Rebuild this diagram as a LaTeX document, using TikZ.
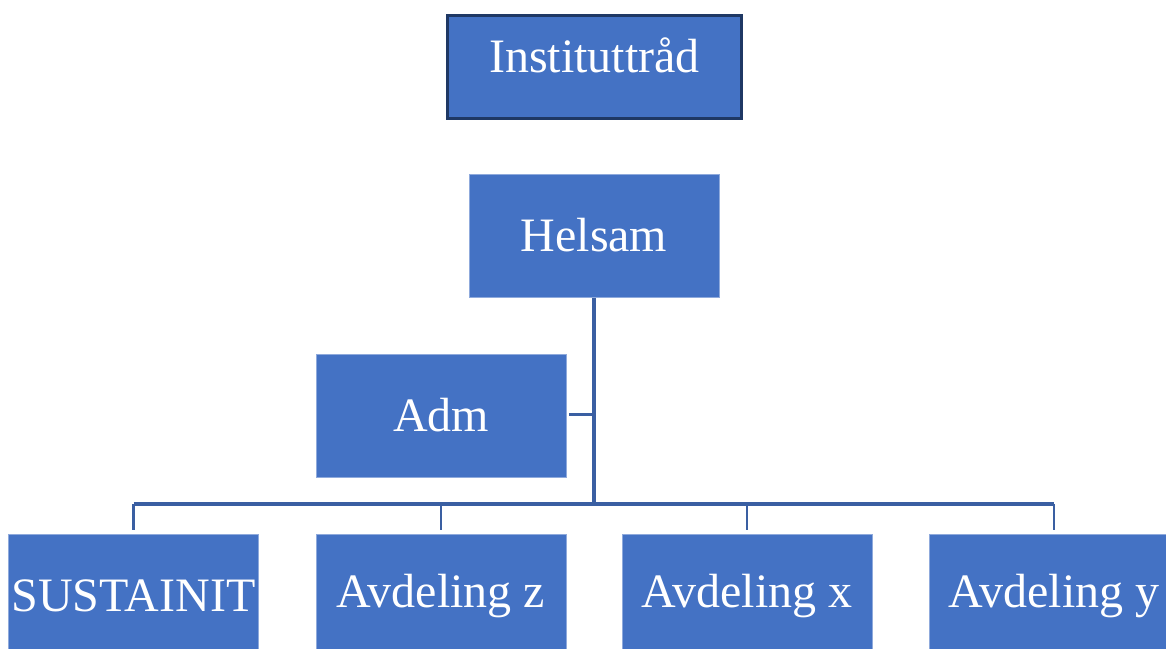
\documentclass[tikz,border=0pt]{standalone}
\usepackage{fontspec}
\setmainfont{Liberation Serif}
\definecolor{boxblue}{HTML}{4472C4}
\definecolor{boxedge}{HTML}{8FAADC}
\definecolor{darkedge}{HTML}{1F3864}
\definecolor{linkblue}{HTML}{3A5FA2}
\begin{document}
\begin{tikzpicture}[x=1pt,y=-1pt,
  orgbox/.style={fill=boxblue,draw=boxedge,line width=0.8pt,minimum width=250pt,minimum height=123pt,inner sep=0pt,text=white,font=\fontsize{48}{50}\selectfont},
  topbox/.style={fill=boxblue,draw=darkedge,line width=2.5pt,minimum width=294pt,minimum height=103pt,inner sep=0pt},
  link/.style={draw=linkblue,line width=3.2pt}]
\useasboundingbox (0,0) rectangle (1166,648);
\node[topbox] (inst) at (594.5,67) {};
\node[text=white,font=\fontsize{48}{50}\selectfont,inner sep=0pt,anchor=base] (insttext) at (594.5,72) {Instituttråd};
\node[orgbox] (helsam) at (594,235.5) {Helsam};
\node[orgbox] (adm) at (441,415.5) {Adm};
\node[orgbox] (sus) at (133.5,596) {SUSTAINIT};
\node[orgbox] (avz) at (441,596) {Avdeling z};
\node[orgbox] (avx) at (747,596) {Avdeling x};
\node[orgbox] (avy) at (1054,596) {Avdeling y};
\coordinate (jadm) at (594,414.5);
\coordinate (jbar) at (594,504);
\draw[link] (594,298) -- (jbar);
\draw[link,line width=2.6pt] (adm.east) ++(3,-1) -- (jadm);
\draw[link] (sus.north |- jbar) -- (avy.north |- jbar);
\foreach \b in {sus,avz,avx,avy}{
  \draw[link,line width=2.6pt] (\b.north |- jbar) -- ([yshift=4pt]\b.north);
}
\end{tikzpicture}
\end{document}
